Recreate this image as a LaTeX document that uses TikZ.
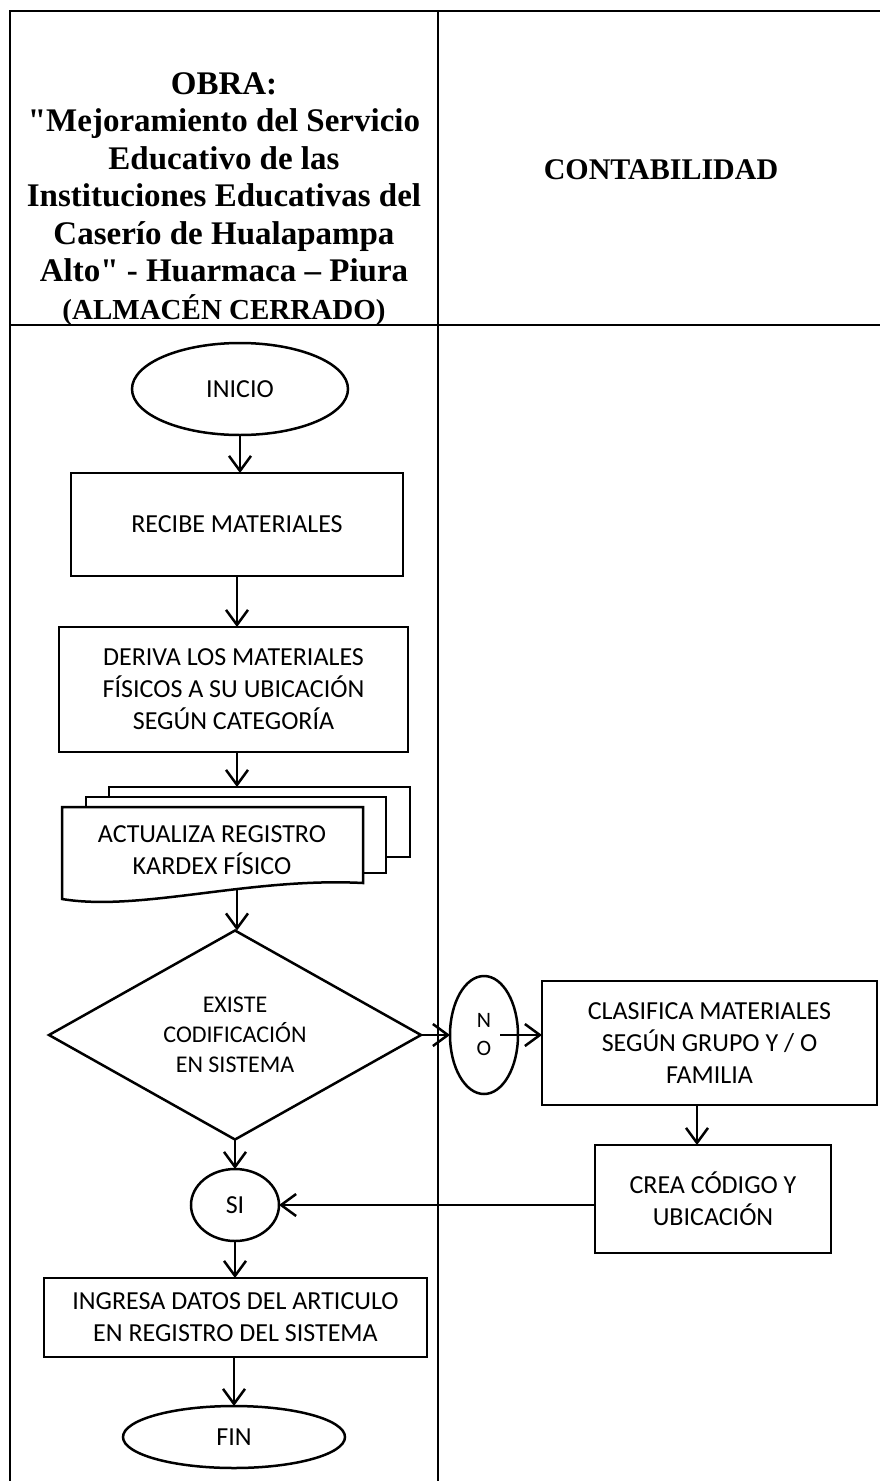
\documentclass[tikz,border=0pt]{standalone}
\usepackage{fontspec}
\setmainfont{Carlito}
\newfontfamily\headfont{Liberation Serif}
\usetikzlibrary{shapes.geometric,arrows.meta}

\begin{document}
\begin{tikzpicture}[x=1pt,y=-1pt,
  every node/.style={inner sep=0pt,outer sep=0pt},
  rule/.style={line width=2.8pt},
  shapeline/.style={draw,line width=2.5pt,fill=white},
  flow/.style={shapeline,align=center,font=\fontsize{26}{32}\selectfont},
  procbox/.style={flow,rectangle},
  term/.style={flow,ellipse},
  arr/.style={line width=2.5pt,-{Straight Barb[length=15pt,width=22pt,line width=2.5pt]}},
  headtext/.style={align=center,font=\headfont\bfseries\fontsize{33}{37.5}\selectfont}
]
\useasboundingbox (0,0) rectangle (880,1481);

% table frame: two lanes with a header row
\draw[rule] (10,1481) -- (10,11) -- (880,11);
\draw[rule] (438,11) -- (438,1481);
\draw[rule] (10,325) -- (880,325);

% lane headers
\node[headtext] (obra) at (224,199) {OBRA:\\"Mejoramiento del Servicio\\Educativo de las\\Instituciones Educativas del\\Caserío de Hualapampa\\Alto" - Huarmaca – Piura\\{\fontsize{29}{37.5}\selectfont (ALMACÉN CERRADO)}};
\node[headtext,font=\headfont\bfseries\fontsize{30}{36}\selectfont] (conta) at (661,170) {CONTABILIDAD};

% main flow
\node[term,minimum width=216pt,minimum height=92pt] (inicio) at (240,389) {INICIO};
\node[procbox,minimum width=332pt,minimum height=103pt] (recibe) at (237,524.5) {RECIBE MATERIALES};
\node[procbox,minimum width=349pt,minimum height=125pt] (deriva) at (233.5,689.5) {DERIVA LOS MATERIALES\\FÍSICOS A SU UBICACIÓN\\SEGÚN CATEGORÍA};

% multi-document: two stacked sheets behind a sheet with a wavy foot
\draw[shapeline] (109,787) rectangle (410,857);
\draw[shapeline] (86,797) rectangle (386,873);
\draw[shapeline] (62,807) -- (363,807) -- (363,883)
  .. controls (250,877) and (140,912) .. (62,899) -- cycle;
\node[align=center,font=\fontsize{26}{32}\selectfont] (kardex) at (212,850) {ACTUALIZA REGISTRO\\KARDEX FÍSICO};
\coordinate (docin) at (237,787);
\coordinate (docout) at (237,889);

\node[flow,diamond,aspect=1.78,minimum width=372pt,minimum height=209pt,
  font=\fontsize{24}{30}\selectfont] (dec) at (235,1035) {EXISTE\\CODIFICACIÓN\\EN SISTEMA};
\node[term,minimum width=68pt,minimum height=118pt,font=\fontsize{22}{28}\selectfont] (no) at (484,1035) {N\\O};
\node[procbox,minimum width=335pt,minimum height=124pt] (clas) at (709.5,1043) {CLASIFICA MATERIALES\\SEGÚN GRUPO Y / O\\FAMILIA};
\node[procbox,minimum width=236pt,minimum height=108pt] (crea) at (713,1199) {CREA CÓDIGO Y\\UBICACIÓN};
\node[term,minimum width=88pt,minimum height=72pt] (si) at (235,1205) {SI};
\node[procbox,minimum width=383pt,minimum height=79pt] (ingresa) at (235.5,1317.5) {INGRESA DATOS DEL ARTICULO\\EN REGISTRO DEL SISTEMA};
\node[term,minimum width=222pt,minimum height=62pt] (fin) at (234,1437) {FIN};

% connectors
\draw[arr] (inicio) -- (inicio |- recibe.north);
\draw[arr] (recibe) -- (recibe |- deriva.north);
\draw[arr] (docin |- deriva.south) -- (docin);
\draw[arr] (docout) -- (docout |- dec.north);
\draw[arr] (dec) -- (no);
\draw[arr] ([xshift=-18pt]no.east) -- (no.east -| clas.west);
\coordinate (clasout) at ([xshift=-12.5pt]clas.south);
\draw[arr] (clasout) -- (clasout |- crea.north);
\draw[arr] (si.east -| crea.west) -- (si.east);
\draw[arr] (dec) -- (dec |- si.north);
\draw[arr] (si) -- (si |- ingresa.north);
\draw[arr] (fin |- ingresa.south) -- (fin.north);
\end{tikzpicture}
\end{document}
